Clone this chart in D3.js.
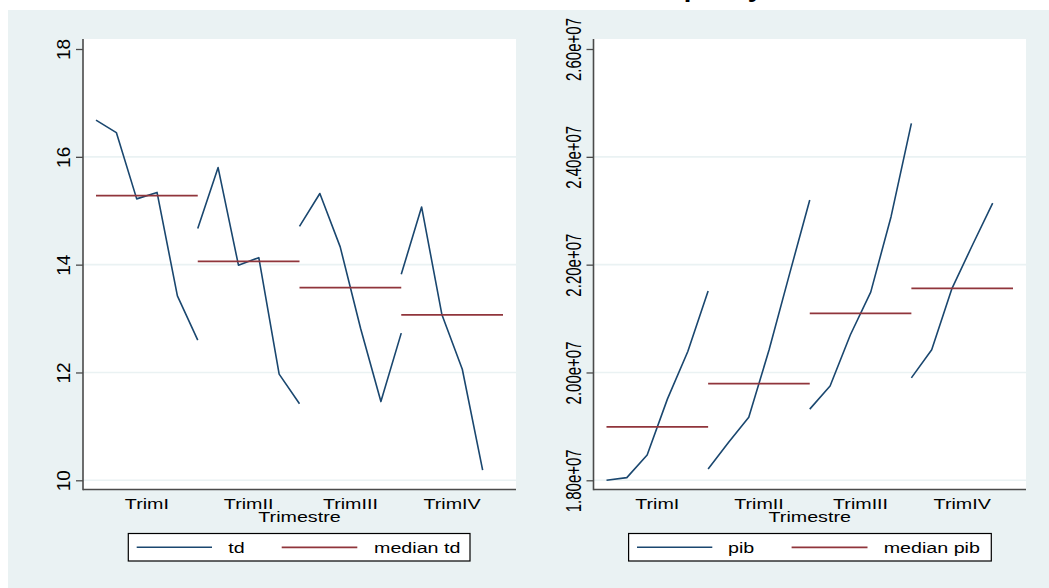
<!DOCTYPE html>
<html>
<head>
<meta charset="utf-8">
<script src="https://cdn.jsdelivr.net/npm/d3@7"></script>
<style>
  html, body { margin: 0; padding: 0; background: #ffffff; }
  svg { display: block; }
  text { font-family: "Liberation Sans", Arial, Helvetica, sans-serif; fill: #000; }
</style>
</head>
<body>
<svg id="chart" width="1049" height="588"></svg>
<script>
// Quarter labels (one subseries per quarter, years in order within each)
const quarters = ["TrimI", "TrimII", "TrimIII", "TrimIV"];

// Unemployment rate (td) by quarter
const tdTrimI   = [16.68, 16.45, 15.22, 15.34, 13.42, 12.60];
const tdTrimII  = [14.67, 15.80, 13.99, 14.13, 11.97, 11.42];
const tdTrimIII = [14.71, 15.32, 14.33, 12.82, 11.46, 12.73];
const tdTrimIV  = [13.82, 15.07, 13.07, 12.06, 10.19];

// GDP (pib) by quarter
const pibTrimI   = [18.00e6, 18.05e6, 18.47e6, 19.51e6, 20.39e6, 21.51e6];
const pibTrimII  = [18.21e6, 18.70e6, 19.17e6, 20.42e6, 21.82e6, 23.20e6];
const pibTrimIII = [19.32e6, 19.75e6, 20.70e6, 21.49e6, 22.89e6, 24.62e6];
const pibTrimIV  = [19.90e6, 20.42e6, 21.56e6, 22.36e6, 23.14e6];

// Axis ticks
const tdTicks  = [10, 12, 14, 16, 18];
const pibTicks = [18e6, 20e6, 22e6, 24e6, 26e6];

const titleText = "Estacionalidad de la tasa de desempleo y del PIB";

// ---------------------------------------------------------------------------
const NAVY = "#1a476f", MAROON = "#90353b", BG = "#eaf2f3", AXIS = "#4a4a4a";
const STRETCH = 1.27;          // horizontal glyph stretch used for all text
const FONT = 15.5;
const YEARS_PER_Q = 5;         // spacing of subseries along the index axis

const svg = d3.select("#chart");

// graph region
svg.append("rect").attr("x", 8).attr("y", 10).attr("width", 1041).attr("height", 578).attr("fill", BG);

// overall title (sits above the region top)
const title = svg.append("text")
  .attr("font-weight", "bold").attr("font-size", 21.6)
  .text(titleText);
const prefix = svg.append("text").attr("font-weight", "bold").attr("font-size", 21.6)
  .text(titleText.slice(0, titleText.indexOf("desempleo") + 5));
const prefixW = prefix.node().getComputedTextLength() * STRETCH;
prefix.remove();
title.attr("transform", `translate(${684 - prefixW},-3.5) scale(${STRETCH},1)`);

function sciFmt(v) {
  const [m, e] = v.toExponential(2).split("e");
  const sign = e[0] === "-" ? "-" : "+";
  const digits = e.replace(/^[+-]/, "").padStart(2, "0");
  return m + "e" + sign + digits;
}

function hText(g, x, y, txt, anchor) {
  return g.append("text")
    .attr("transform", `translate(${x},${y}) scale(${STRETCH},1)`)
    .attr("text-anchor", anchor || "middle")
    .attr("font-size", FONT)
    .text(txt);
}

function drawPanel(cfg) {
  const { x0, x1, y0, y1 } = cfg.plot;
  const g = svg.append("g");

  // plot region
  g.append("rect").attr("x", x0).attr("y", y0).attr("width", x1 - x0).attr("height", y1 - y0).attr("fill", "#fff");

  const x = d3.scaleLinear().domain([0, quarters.length * YEARS_PER_Q]).range([x0 + 13, x1 - 13]);
  const y = d3.scaleLinear().domain(cfg.yDomain).range([y1 - 9.2, y0 + 10]);

  // gridlines
  g.append("g").selectAll("line")
    .data(cfg.ticks.slice(0, -1))
    .join("line")
    .attr("x1", x0).attr("x2", x1)
    .attr("y1", d => y(d)).attr("y2", d => y(d))
    .attr("stroke", BG).attr("stroke-width", 1.6);

  // y axis
  const yAxis = g.append("g").attr("transform", `translate(${x0},0)`)
    .call(d3.axisLeft(y).tickValues(cfg.ticks).tickSize(7).tickSizeOuter(0).tickFormat(cfg.fmt));
  yAxis.select(".domain").remove();
  yAxis.selectAll(".tick line").attr("stroke", AXIS).attr("stroke-width", 1.3);
  yAxis.selectAll(".tick text")
    .attr("x", null).attr("dy", null)
    .attr("text-anchor", "middle")
    .attr("font-family", null)
    .attr("font-size", cfg.yFont)
    .attr("fill", "#000")
    .attr("transform", `translate(-13,0) scale(${cfg.yStretch},1) rotate(-90)`);

  g.append("line").attr("x1", x0).attr("x2", x0).attr("y1", y0).attr("y2", y1 + 0.8)
    .attr("stroke", AXIS).attr("stroke-width", 1.6);
  g.append("line").attr("x1", x0).attr("x2", x1).attr("y1", y1).attr("y2", y1)
    .attr("stroke", AXIS).attr("stroke-width", 1.6);

  // subseries lines and medians
  const line = d3.line().x(d => x(d.i)).y(d => y(d.v));
  cfg.series.forEach((vals, q) => {
    const pts = vals.map((v, j) => ({ i: q * YEARS_PER_Q + j, v }));
    g.append("path").attr("d", line(pts))
      .attr("fill", "none").attr("stroke", NAVY).attr("stroke-width", 1.6)
      .attr("stroke-linejoin", "round");
    const med = d3.median(vals);
    g.append("line")
      .attr("x1", x(q * YEARS_PER_Q)).attr("x2", x((q + 1) * YEARS_PER_Q))
      .attr("y1", y(med)).attr("y2", y(med))
      .attr("stroke", MAROON).attr("stroke-width", 1.8);
  });

  // x labels
  quarters.forEach((q, k) => hText(g, x(k * YEARS_PER_Q + YEARS_PER_Q / 2), 509, q));
  hText(g, (x0 + x1) / 2, 521.5, "Trimestre");

  // legend
  const L = cfg.legend;
  g.append("rect").attr("x", L.x0).attr("y", 533.5).attr("width", L.x1 - L.x0).attr("height", 27.5)
    .attr("fill", "#fff").attr("stroke", "#000").attr("stroke-width", 1.2);
  g.append("line").attr("x1", L.l1[0]).attr("x2", L.l1[1]).attr("y1", 547.3).attr("y2", 547.3)
    .attr("stroke", NAVY).attr("stroke-width", 1.6);
  hText(g, L.t1, 553.3, cfg.name, "start");
  g.append("line").attr("x1", L.l2[0]).attr("x2", L.l2[1]).attr("y1", 547.3).attr("y2", 547.3)
    .attr("stroke", MAROON).attr("stroke-width", 1.8);
  hText(g, L.t2, 553.3, "median " + cfg.name, "start");
}

drawPanel({
  name: "td",
  plot: { x0: 83, x1: 516, y0: 39, y1: 489.5 },
  yDomain: [10, 18],
  ticks: tdTicks,
  fmt: d3.format("d"),
  yFont: 19, yStretch: 1.0,
  series: [tdTrimI, tdTrimII, tdTrimIII, tdTrimIV],
  legend: { x0: 128.3, x1: 470, l1: [136.7, 212], t1: 228.3, l2: [281.7, 357.3], t2: 374 }
});

drawPanel({
  name: "pib",
  plot: { x0: 593.5, x1: 1026, y0: 39, y1: 489.5 },
  yDomain: [18e6, 26e6],
  ticks: pibTicks,
  fmt: sciFmt,
  yFont: 15, yStretch: 1.45,
  series: [pibTrimI, pibTrimII, pibTrimIII, pibTrimIV],
  legend: { x0: 628.6, x1: 991.3, l1: [637, 712.3], t1: 728, l2: [791.6, 867.5], t2: 883.7 }
});
</script>
</body>
</html>
